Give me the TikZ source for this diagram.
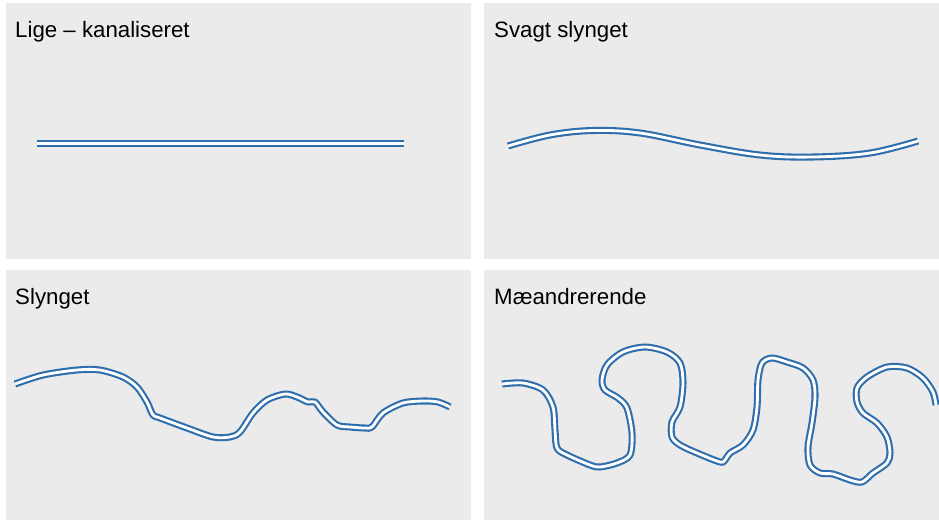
\documentclass[tikz,border=0pt]{standalone}
\usepackage{fontspec}
\setmainfont{Liberation Sans}
\usepackage{xcolor}
\definecolor{panelgray}{HTML}{EBEBEB}
\definecolor{riverblue}{HTML}{2F6EAC}

\begin{document}
\begin{tikzpicture}[x=0.03cm,y=-0.03cm,
  panel/.style={fill=panelgray,draw=none},
  river/.style={draw=riverblue,double=white,line width=1.8pt,double distance=2.4pt,line join=round},
  title/.style={anchor=base west,inner sep=0pt,font=\fontsize{19}{22}\selectfont}]
\useasboundingbox (0,0) rectangle (939,520);
% panels
\fill[panel] (6,3) rectangle (471,259);
\fill[panel] (484,3) rectangle (939,259);
\fill[panel] (6,270) rectangle (471,520);
\fill[panel] (484,270) rectangle (939,520);
% titles
\node[title] (lige) at (15,37) {Lige -- kanaliseret};
\node[title] (svagt) at (494,37) {Svagt slynget};
\node[title] (slynget) at (15,304) {Slynget};
\node[title] (maeander) at (494,304) {Mæandrerende};
% rivers
\draw[river] (37,143.5) -- (404,143.5);
\draw[river] plot[smooth,tension=0.6] coordinates {(508,146) (550,135) (593,130.5) (640,133) (700,145) (760,155) (813,157) (870,153) (918,141)};
\draw[river] plot[smooth,tension=0.5] coordinates {(15,384) (43,375) (77,370) (100,370) (123,377) (137,387) (147,402) (153,415) (160,418) (187,428) (213,437) (230,437) (240,432) (253,413) (267,400) (285,394) (297,397) (308,402) (315,402) (323,412) (337,425) (350,427) (365,428) (372,427) (383,413) (403,403) (423,401) (438,402) (450,407)};
\draw[river] plot[smooth,tension=0.5] coordinates {(502,384) (523,383) (543,390) (553,407) (555,430) (557,448) (567,455) (590,465) (600,467) (617,463) (630,455) (632,433) (627,408) (618,398) (605,390) (602,380) (607,365) (623,352) (645,347) (667,352) (680,363) (683,383) (680,407) (672,422) (672,437) (680,445) (697,453) (720,462) (725,460) (730,453) (743,445) (753,430) (757,407) (758,380) (762,363) (772,358) (787,362) (803,368) (813,380) (815,397) (812,423) (808,447) (810,465) (820,473) (833,474) (850,480) (862,482) (873,473) (887,463) (890,453) (887,437) (877,423) (863,413) (857,402) (857,388) (867,377) (887,367) (907,368) (923,378) (933,392) (936,405)};
\end{tikzpicture}
\end{document}
